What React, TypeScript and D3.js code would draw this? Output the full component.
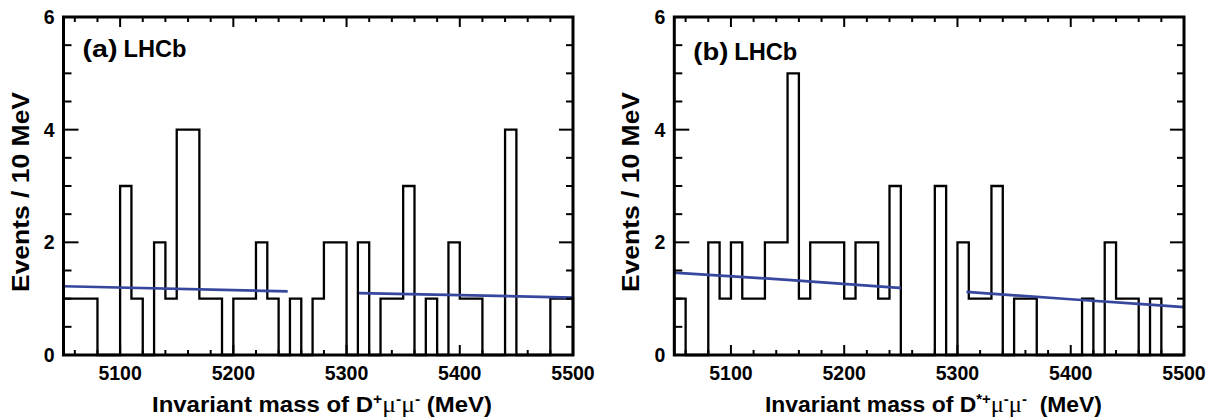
import React from "react";
import * as d3 from "d3";

// ---- data ----
const binStart = 5050;
const binWidth = 10;
const xDomain: [number, number] = [5050, 5500];
const yDomain: [number, number] = [0, 6];

// counts per 10 MeV bin, 5050..5500
const countsA = [1, 1, 1, 0, 0, 3, 1, 0, 2, 1, 4, 4, 1, 1, 0, 1, 1, 2, 1, 0, 1, 0, 1, 2, 2, 0, 2, 0, 1, 1, 3, 0, 1, 0, 2, 1, 1, 0, 0, 4, 0, 0, 0, 1, 1];
const countsB = [1, 0, 0, 2, 1, 2, 1, 1, 2, 2, 5, 1, 2, 2, 2, 1, 2, 2, 1, 3, 0, 0, 0, 3, 0, 2, 1, 1, 3, 0, 1, 1, 0, 0, 0, 0, 1, 0, 2, 1, 1, 0, 1, 0, 0];

// background fit (mass, events), two segments each (signal window excluded)
const fitA = [
  [[5050, 1.22], [5248, 1.13]],
  [[5311, 1.1], [5500, 1.02]],
];
const fitB = [
  [[5050, 1.46], [5150, 1.335], [5250, 1.19]],
  [[5308, 1.12], [5400, 0.99], [5500, 0.85]],
];

const xMajorTicks = [5100, 5200, 5300, 5400, 5500];
const xMinorTicks = [5060, 5080, 5120, 5140, 5160, 5180, 5220, 5240, 5260, 5280, 5320, 5340, 5360, 5380, 5420, 5440, 5460, 5480];
const yMajorTicks = [0, 2, 4, 6];
const yMinorTicks = [0.5, 1, 1.5, 2.5, 3, 3.5, 4.5, 5, 5.5];

const panelLabels = ["(a)", "(b)"];
const expLabel = "LHCb";
const yTitle = "Events / 10 MeV";

const SANS = "'Liberation Sans', Arial, Helvetica, sans-serif";
const SERIF = "'Liberation Serif', 'Times New Roman', serif";
const FIT_COLOR = "#37479e";

type PanelProps = {
  x0: number;
  x1: number;
  counts: number[];
  fit: number[][][];
  label: string;
  labelY: number;
  titleX: number;
  titleLen: number;
  star: boolean;
};

function Panel({ x0, x1, counts, fit, label, labelY, titleX, titleLen, star }: PanelProps) {
  const yTop = 17;
  const yBot = 355;
  const x = d3.scaleLinear().domain(xDomain).range([x0, x1]);
  const y = d3.scaleLinear().domain(yDomain).range([yBot, yTop]);

  const pts: [number, number][] = [[binStart, 0]];
  counts.forEach((c, i) => {
    const lo = binStart + i * binWidth;
    pts.push([lo, c]);
    pts.push([lo + binWidth, c]);
  });
  pts.push([binStart + counts.length * binWidth, 0]);
  const line = d3
    .line<[number, number]>()
    .x((d) => x(d[0]))
    .y((d) => y(d[1]));
  const histPath = line(pts) || "";

  const fitLine = d3
    .line<number[]>()
    .x((d) => x(d[0]))
    .y((d) => y(d[1]))
    .curve(d3.curveMonotoneX);

  const tickStroke = 2;
  const tickFont = 19.5;
  return (
    <g>
      {/* histogram */}
      <path d={histPath} fill="none" stroke="#000" strokeWidth={2.3} strokeLinejoin="miter" />
      {/* fit */}
      {fit.map((seg, i) => (
        <path key={i} d={fitLine(seg) || ""} fill="none" stroke={FIT_COLOR} strokeWidth={2.7} />
      ))}
      {/* ticks */}
      {xMajorTicks.map((t) => (
        <g key={"xM" + t}>
          <line x1={x(t)} x2={x(t)} y1={yBot} y2={yBot - 10} stroke="#000" strokeWidth={tickStroke} />
          <line x1={x(t)} x2={x(t)} y1={yTop} y2={yTop + 10} stroke="#000" strokeWidth={tickStroke} />
          <text x={x(t)} y={379.5} textAnchor="middle" fontFamily={SANS} fontWeight="bold" fontSize={tickFont}>
            {t}
          </text>
        </g>
      ))}
      {xMinorTicks.map((t) => (
        <g key={"xm" + t}>
          <line x1={x(t)} x2={x(t)} y1={yBot} y2={yBot - 5} stroke="#000" strokeWidth={tickStroke} />
          <line x1={x(t)} x2={x(t)} y1={yTop} y2={yTop + 5} stroke="#000" strokeWidth={tickStroke} />
        </g>
      ))}
      {yMajorTicks.map((t) => (
        <g key={"yM" + t}>
          <line x1={x0} x2={x0 + 15} y1={y(t)} y2={y(t)} stroke="#000" strokeWidth={tickStroke} />
          <line x1={x1} x2={x1 - 14} y1={y(t)} y2={y(t)} stroke="#000" strokeWidth={tickStroke} />
          <text x={x0 - 9} y={y(t) + 7} textAnchor="end" fontFamily={SANS} fontWeight="bold" fontSize={tickFont}>
            {t}
          </text>
        </g>
      ))}
      {yMinorTicks.map((t) => (
        <g key={"ym" + t}>
          <line x1={x0} x2={x0 + 8} y1={y(t)} y2={y(t)} stroke="#000" strokeWidth={tickStroke} />
          <line x1={x1} x2={x1 - 7} y1={y(t)} y2={y(t)} stroke="#000" strokeWidth={tickStroke} />
        </g>
      ))}
      {/* frame */}
      <rect x={x0} y={yTop} width={x1 - x0} height={yBot - yTop} fill="none" stroke="#000" strokeWidth={3} />
      {/* labels */}
      <text x={x0 + 19} y={labelY} fontFamily={SANS} fontWeight="bold" fontSize={23} textLength={35} lengthAdjust="spacingAndGlyphs">
        {label}
      </text>
      <text x={x0 + 60} y={labelY} fontFamily={SANS} fontWeight="bold" fontSize={23} textLength={63} lengthAdjust="spacingAndGlyphs">
        {expLabel}
      </text>
      {/* y title */}
      <text
        transform={`translate(${x0 - 35},292) rotate(-90)`}
        fontFamily={SANS}
        fontWeight="bold"
        fontSize={24}
        textLength={200}
        lengthAdjust="spacingAndGlyphs"
      >
        {yTitle}
      </text>
      {/* x title */}
      <text x={titleX} y={411.5} fontFamily={SANS} fontWeight="bold" fontSize={21.5} textLength={titleLen} lengthAdjust="spacingAndGlyphs">
        Invariant mass of D
        <tspan dy={-8} fontSize={14}>
          {star ? "*+" : "+"}
        </tspan>
        <tspan dy={8} fontFamily={SERIF} fontWeight="normal" fontSize={23}>
          μ
        </tspan>
        <tspan dy={-8} fontSize={14}>
          -
        </tspan>
        <tspan dy={8} fontFamily={SERIF} fontWeight="normal" fontSize={23}>
          μ
        </tspan>
        <tspan dy={-8} fontSize={14}>
          -
        </tspan>
        <tspan dy={8}>{star ? "\u00a0\u00a0(MeV)" : "\u00a0(MeV)"}</tspan>
      </text>
    </g>
  );
}

export default function App() {
  return (
    <svg
      width={1216}
      height={417}
      viewBox="0 0 1216 417"
      style={{ position: "absolute", left: 0, top: 0, background: "#fff" }}
    >
      <rect x={0} y={0} width={1216} height={417} fill="#fff" />
      <Panel x0={63.5} x1={573} counts={countsA} fit={fitA} label={panelLabels[0]} labelY={57} titleX={152} titleLen={340} star={false} />
      <Panel x0={674.3} x1={1184} counts={countsB} fit={fitB} label={panelLabels[1]} labelY={60} titleX={765} titleLen={337} star={true} />
    </svg>
  );
}
